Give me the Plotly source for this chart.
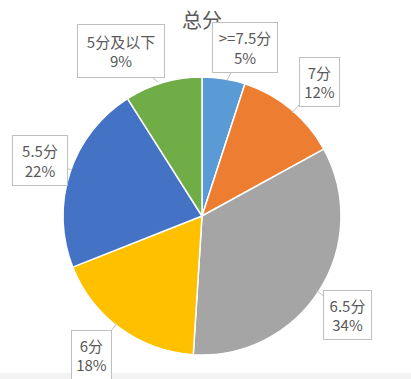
import plotly.graph_objects as go

labels = [">=7.5分", "7分", "6.5分", "6分", "5.5分", "5分及以下"]
values = [5, 12, 34, 18, 22, 9]
colors = ["#5B9BD5", "#ED7D31", "#A5A5A5", "#FFC000", "#4472C4", "#70AD47"]
pct_text = ["5%", "12%", "34%", "18%", "22%", "9%"]

W, H = 411, 379
def px(x): return x / W
def py(y): return 1 - y / H

fig = go.Figure(go.Pie(
    labels=labels, values=values, sort=False, direction="clockwise", rotation=0,
    marker=dict(colors=colors, line=dict(color="white", width=1.5)),
    textinfo="none", hoverinfo="label+percent", showlegend=False,
    domain=dict(x=[px(63), px(341)], y=[py(355), py(77)]),
))

fig.add_annotation(x=px(202), y=py(19), xref="paper", yref="paper", text="总分",
                   xanchor="center", yanchor="middle",
                   showarrow=False, font=dict(family="Noto Sans CJK SC", size=20, color="#595959"))

# label box centers, box sizes and arrow tips (px)
centers = [(245, 48), (319, 82), (347, 315), (92, 355), (40, 160), (121, 51)]
sizes = [(64, 49), (39, 48), (47, 48), (39, 48), (54, 49), (86, 52)]
tips = [(227, 80), (292, 113), (316, 290), (118, 322), (72, 170), (158, 82)]

for lab, pt, (cx, cy), (bw, bh), (tx, ty) in zip(labels, pct_text, centers, sizes, tips):
    fig.add_annotation(
        x=px(tx), y=py(ty), xref="paper", yref="paper",
        ax=cx - tx, ay=cy - ty, axref="pixel", ayref="pixel",
        text=f"{lab}<br>{pt}", showarrow=True, arrowhead=0, arrowwidth=1,
        arrowcolor="#BFBFBF", bordercolor="#BFBFBF", borderwidth=1, borderpad=0,
        width=bw, height=bh,
        bgcolor="white", font=dict(family="Noto Sans CJK SC", size=15, color="#595959"),
        align="center", valign="middle",
    )

fig.add_shape(type="rect", xref="paper", yref="paper", x0=0, x1=1, y0=0, y1=py(373),
              fillcolor="#F3F3F3", line=dict(width=0), layer="above")

fig.update_layout(width=W, height=H, margin=dict(l=0, r=0, t=0, b=0),
                  paper_bgcolor="white", plot_bgcolor="white")
fig.write_html("out.html", config={"displayModeBar": False},
               post_script="document.body.style.margin='0';")
